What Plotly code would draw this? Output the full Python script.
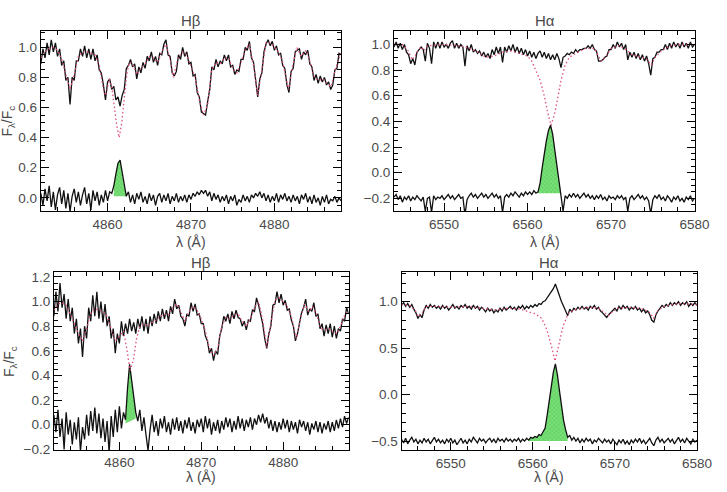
import numpy as np
import plotly.graph_objects as go

STEP = 0.25
HB_START = 4852.0
HA_START = 6544.0

# ---------------- Panel 1 : H-beta (top left) ----------------
hb1_obs = [
    0.89, 0.99, 0.93, 1.03, 0.95, 1.05, 0.97, 1.03, 0.94, 0.99,
    0.88, 0.91, 0.78, 0.80, 0.62, 0.80, 0.78, 0.91, 0.91, 0.99,
    0.94, 1.01, 0.93, 0.99, 0.92, 0.99, 0.91, 0.95, 0.85, 0.83,
    0.75, 0.65, 0.77, 0.79, 0.72, 0.74, 0.65, 0.67, 0.61, 0.68,
    0.72, 0.86, 0.88, 0.92, 0.87, 0.89, 0.79, 0.87, 0.83, 0.90,
    0.86, 0.94, 0.91, 0.97, 0.90, 0.94, 0.88, 0.96, 0.95, 1.02,
    1.05, 0.95, 0.94, 0.83, 0.81, 0.84, 0.95, 0.92, 1.00, 0.94,
    0.97, 0.89, 0.90, 0.81, 0.82, 0.70, 0.67, 0.57, 0.56, 0.55,
    0.64, 0.72, 0.87, 0.85, 0.92, 0.87, 0.91, 0.89, 0.95, 0.91,
    0.95, 0.87, 0.88, 0.82, 0.85, 0.84, 0.92, 0.92, 1.00, 0.98,
    1.04, 0.93, 0.90, 0.76, 0.67, 0.79, 0.83, 0.97, 1.02, 1.05,
    1.01, 1.04, 0.98, 1.01, 0.95, 0.96, 0.88, 0.86, 0.75, 0.70,
    0.84, 0.86, 0.97, 0.98, 0.99, 0.92, 0.97, 0.95, 0.98, 0.89,
    0.87, 0.78, 0.82, 0.76, 0.81, 0.77, 0.80, 0.75, 0.77, 0.72,
    0.75, 0.85, 0.86, 0.96, 0.95]
hb1_diff = [
    0.03, -0.05, 0.06, -0.02, 0.08, -0.06, 0.04, -0.08, 0.02, 0.07,
    -0.04, 0.05, -0.07, 0.03, -0.09, 0.01, 0.06, -0.03, 0.04, -0.05,
    0.02, 0.07, -0.04, 0.03, -0.08, 0.05, -0.02, 0.04, -0.05, 0.02,
    -0.03, 0.05, -0.02, 0.04, 0.03, 0.08, 0.16, 0.23, 0.25, 0.16,
    0.07, 0.01, 0.04, -0.03, 0.02, -0.04, 0.03, -0.01, 0.04, -0.03,
    0.01, -0.04, 0.03, -0.02, 0.02, -0.05, 0.01, 0.03, -0.03, 0.02,
    -0.02, 0.03, -0.04, 0.01, -0.02, 0.03, -0.03, 0.01, -0.02, 0.02,
    -0.03, 0.02, -0.01, 0.03, 0.01, 0.04, 0.02, 0.05, 0.03, 0.05,
    0.01, 0.04, -0.02, 0.03, -0.01, 0.02, -0.03, 0.01, -0.02, 0.02,
    -0.04, 0.01, -0.02, 0.02, -0.05, -0.01, -0.03, 0.02, -0.02, 0.01,
    -0.03, 0.02, 0.00, 0.03, 0.01, 0.04, 0.00, 0.03, -0.02, 0.02,
    -0.03, 0.01, -0.02, 0.03, -0.03, 0.02, -0.01, 0.03, -0.02, 0.01,
    -0.03, 0.02, -0.02, 0.01, -0.04, 0.02, -0.01, 0.03, -0.03, 0.01,
    -0.04, 0.02, -0.03, 0.00, -0.05, 0.01, -0.03, 0.02, -0.04, -0.01,
    -0.02, 0.01, -0.03, 0.00, -0.02]
hb1_model_wl = [4852.0, 4852.5, 4853.0, 4853.5, 4854.0, 4854.5, 4855.0, 4855.5, 4856.0, 4856.5,
                4857.0, 4857.5, 4858.0, 4858.5, 4859.0, 4859.5, 4859.8, 4860.2, 4860.5, 4860.8,
                4861.1, 4861.4, 4861.7, 4862.0, 4862.3, 4862.6, 4863.0, 4863.5, 4864.0, 4864.5,
                4865.0, 4865.5, 4866.0, 4866.5, 4867.0, 4867.5, 4867.9, 4868.4, 4869.0, 4869.5,
                4870.0, 4870.5, 4871.0, 4871.5, 4872.0, 4872.5, 4873.0, 4873.5, 4874.0, 4874.5,
                4875.0, 4875.5, 4876.0, 4876.5, 4877.0, 4877.5, 4878.0, 4878.5, 4879.0, 4879.5,
                4880.0, 4880.5, 4881.0, 4881.7, 4882.2, 4882.7, 4883.2, 4883.8, 4884.3, 4884.8,
                4885.3, 4885.8, 4886.3, 4886.8, 4887.3, 4888.0]
hb1_model = [0.93, 0.97, 0.99, 1.00, 0.98, 0.92, 0.82, 0.72, 0.82, 0.94,
             0.97, 0.97, 0.96, 0.95, 0.88, 0.72, 0.68, 0.79, 0.74, 0.62,
             0.48, 0.40, 0.50, 0.66, 0.82, 0.90, 0.89, 0.82, 0.86, 0.89,
             0.94, 0.93, 0.90, 0.97, 1.02, 0.92, 0.80, 0.92, 0.97, 0.95,
             0.88, 0.80, 0.65, 0.55, 0.62, 0.85, 0.90, 0.89, 0.93, 0.93,
             0.86, 0.83, 0.90, 0.98, 1.02, 0.88, 0.68, 0.85, 1.03, 1.03,
             1.00, 0.97, 0.90, 0.72, 0.88, 1.00, 0.94, 0.98, 0.90, 0.80,
             0.78, 0.79, 0.76, 0.74, 0.85, 0.97]
hb1_fill_wl = [4860.75, 4862.25]
hb1_fill_base = [0.01, 0.01]

# ---------------- Panel 2 : H-alpha (top right) ----------------
ha1_obs = [
    0.98, 1.02, 0.97, 1.01, 0.96, 1.00, 0.94, 0.92, 0.85, 0.89,
    0.84, 0.94, 0.96, 0.98, 0.96, 0.87, 1.01, 0.97, 0.85, 1.02,
    0.97, 1.02, 0.97, 1.02, 0.98, 1.00, 0.97, 1.01, 1.03, 0.97,
    1.01, 0.97, 1.00, 0.98, 0.83, 0.99, 0.95, 1.00, 0.94, 0.96,
    0.93, 0.95, 0.91, 0.94, 0.90, 0.93, 0.89, 0.96, 0.92, 0.98,
    0.93, 0.98, 0.86, 0.98, 0.94, 0.99, 0.95, 1.00, 0.94, 0.98,
    0.93, 0.97, 0.92, 0.96, 0.91, 0.95, 0.90, 0.94, 0.89, 0.93,
    0.95, 0.90, 0.94, 0.89, 0.93, 0.88, 0.92, 0.88, 0.93, 0.89,
    0.82, 0.90, 0.91, 0.93, 0.92, 0.94, 0.93, 0.96, 0.94, 0.96,
    0.96, 0.97, 0.97, 0.99, 0.97, 1.00, 0.96, 0.95, 0.87, 0.87,
    0.88, 0.90, 0.91, 0.96, 0.96, 1.00, 0.97, 1.02, 0.98, 1.01,
    0.96, 1.00, 0.88, 0.94, 0.90, 0.94, 0.89, 0.93, 0.88, 0.92,
    0.87, 0.91, 0.85, 0.76, 0.89, 0.90, 0.94, 0.94, 0.96, 0.96,
    1.00, 0.96, 1.01, 0.97, 1.02, 0.98, 1.01, 0.97, 1.02, 0.98,
    1.01, 0.97, 1.02, 0.98, 1.00]
ha1_diff = [
    -0.19, -0.17, -0.21, -0.18, -0.23, -0.19, -0.21, -0.18, -0.22, -0.19,
    -0.21, -0.18, -0.20, -0.22, -0.19, -0.30, -0.20, -0.19, -0.31, -0.18,
    -0.21, -0.19, -0.20, -0.18, -0.21, -0.19, -0.17, -0.20, -0.18, -0.21,
    -0.19, -0.17, -0.20, -0.19, -0.33, -0.21, -0.18, -0.16, -0.19, -0.17,
    -0.20, -0.18, -0.16, -0.19, -0.17, -0.20, -0.18, -0.16, -0.19, -0.17,
    -0.20, -0.18, -0.31, -0.19, -0.17, -0.19, -0.16, -0.18, -0.15, -0.17,
    -0.19, -0.16, -0.18, -0.15, -0.17, -0.15, -0.17, -0.14, -0.16, -0.15,
    -0.08, 0.04, 0.15, 0.25, 0.33, 0.37, 0.30, 0.18, 0.06, -0.06,
    -0.15, -0.30, -0.18, -0.20, -0.17, -0.19, -0.16, -0.19, -0.17, -0.20,
    -0.18, -0.16, -0.19, -0.17, -0.20, -0.18, -0.21, -0.18, -0.20, -0.17,
    -0.21, -0.19, -0.22, -0.18, -0.20, -0.19, -0.21, -0.18, -0.20, -0.18,
    -0.21, -0.19, -0.30, -0.20, -0.18, -0.21, -0.19, -0.17, -0.20, -0.18,
    -0.21, -0.19, -0.22, -0.32, -0.21, -0.18, -0.20, -0.17, -0.21, -0.19,
    -0.22, -0.18, -0.20, -0.23, -0.19, -0.21, -0.18, -0.22, -0.20, -0.23,
    -0.19, -0.21, -0.18, -0.22, -0.20]
ha1_model_wl = [6544.0, 6545.0, 6545.7, 6546.2, 6546.7, 6547.2, 6547.6, 6548.0, 6550.0, 6552.0,
                6553.0, 6554.0, 6555.0, 6556.0, 6557.0, 6558.0, 6559.0, 6560.0, 6560.5, 6561.0,
                6561.5, 6562.0, 6562.4, 6562.8, 6563.2, 6563.6, 6564.0, 6564.5, 6565.0, 6566.0,
                6567.0, 6568.0, 6568.5, 6568.8, 6569.3, 6570.0, 6571.0, 6571.8, 6572.5, 6573.0,
                6573.6, 6574.2, 6574.8, 6575.3, 6576.0, 6577.0, 6578.0, 6580.0]
ha1_model = [1.00, 1.00, 0.95, 0.88, 0.93, 0.98, 0.95, 0.99, 1.00, 0.99,
             0.97, 0.94, 0.90, 0.91, 0.94, 0.95, 0.93, 0.91, 0.87, 0.80,
             0.72, 0.60, 0.47, 0.37, 0.45, 0.58, 0.72, 0.84, 0.90, 0.94,
             0.97, 0.97, 0.90, 0.87, 0.90, 0.97, 0.99, 0.96, 0.92, 0.91,
             0.90, 0.89, 0.84, 0.90, 0.95, 0.99, 1.00, 1.00]
ha1_fill_wl = [6561.25, 6564.0]
ha1_fill_base = [-0.16, -0.16]

# ---------------- Panel 3 : H-beta (bottom left) ----------------
hb2_obs = [
    0.88, 1.08, 0.92, 1.15, 0.95, 1.06, 0.86, 1.02, 0.84, 0.95,
    0.74, 0.86, 0.66, 0.78, 0.55, 0.80, 0.70, 0.95, 0.84, 1.05,
    0.88, 1.08, 0.86, 1.00, 0.83, 0.98, 0.80, 0.88, 0.70, 0.78,
    0.58, 0.74, 0.66, 0.84, 0.72, 0.82, 0.74, 0.86, 0.76, 0.83,
    0.74, 0.86, 0.78, 0.88, 0.76, 0.86, 0.74, 0.88, 0.80, 0.90,
    0.82, 0.92, 0.84, 0.94, 0.86, 0.93, 0.84, 0.96, 0.90, 1.02,
    0.94, 0.97, 0.88, 0.86, 0.80, 0.90, 0.88, 0.99, 0.92, 0.98,
    0.89, 0.90, 0.82, 0.82, 0.72, 0.68, 0.58, 0.62, 0.52, 0.60,
    0.57, 0.72, 0.78, 0.88, 0.84, 0.90, 0.82, 0.92, 0.86, 0.93,
    0.87, 0.86, 0.80, 0.84, 0.77, 0.85, 0.84, 0.93, 0.92, 1.03,
    0.97, 0.90, 0.82, 0.70, 0.62, 0.74, 0.80, 0.97, 0.98, 1.08,
    0.99, 1.06, 0.97, 1.01, 0.93, 0.94, 0.85, 0.80, 0.68, 0.74,
    0.82, 0.91, 0.95, 1.02, 0.89, 0.94, 0.92, 0.99, 0.88, 0.90,
    0.78, 0.82, 0.72, 0.81, 0.74, 0.82, 0.71, 0.80, 0.70, 0.78,
    0.76, 0.86, 0.84, 0.95, 0.90]
hb2_diff = [
    0.08, -0.06, 0.12, -0.10, 0.05, -0.20, 0.10, -0.08, 0.04, -0.16,
    0.02, -0.12, 0.06, -0.22, -0.02, -0.12, 0.08, -0.09, 0.11, -0.05,
    0.14, -0.07, 0.09, -0.11, 0.05, -0.14, 0.03, -0.23, 0.07, -0.10,
    0.12, -0.06, 0.15, -0.03, 0.10, 0.04, 0.30, 0.49, 0.36, 0.24,
    0.10, 0.03, 0.12, -0.05, 0.06, -0.08, -0.21, -0.04, 0.08, -0.06,
    0.03, -0.09, 0.05, -0.03, 0.07, -0.06, 0.02, -0.08, 0.05, -0.04,
    0.06, -0.05, 0.03, -0.07, 0.04, -0.03, 0.06, -0.05, 0.02, -0.07,
    0.04, -0.02, 0.05, -0.06, 0.07, -0.03, 0.05, -0.08, 0.02, -0.05,
    0.04, -0.07, 0.03, -0.04, 0.06, -0.02, 0.05, -0.06, 0.03, -0.04,
    0.07, -0.03, 0.05, -0.05, 0.04, -0.02, 0.06, -0.04, 0.05, 0.00,
    0.08, 0.02, 0.09, 0.01, 0.06, -0.03, 0.04, -0.05, 0.03, -0.06,
    0.02, -0.04, 0.05, -0.03, 0.04, -0.06, 0.03, -0.04, 0.02, -0.07,
    0.04, -0.02, 0.03, -0.05, 0.02, -0.08, 0.01, -0.04, 0.03, -0.06,
    0.02, -0.07, 0.01, -0.04, 0.03, -0.06, 0.02, -0.05, 0.04, -0.03,
    0.05, -0.02, 0.07, 0.01, 0.06]
hb2_model_wl = [4852.0, 4852.5, 4853.0, 4853.5, 4854.0, 4854.5, 4855.0, 4855.5, 4856.0, 4856.5,
                4857.0, 4857.5, 4858.0, 4858.5, 4859.0, 4859.5, 4860.0, 4860.5, 4860.9, 4861.3,
                4861.7, 4862.1, 4862.5, 4863.0, 4863.5, 4864.0, 4864.5, 4865.0, 4865.5, 4866.0,
                4866.5, 4867.0, 4867.5, 4868.0, 4868.5, 4869.0, 4869.5, 4870.0, 4870.5, 4871.0,
                4871.5, 4872.0, 4872.5, 4873.0, 4873.5, 4874.0, 4874.5, 4875.0, 4875.5, 4876.0,
                4876.5, 4877.0, 4877.5, 4878.0, 4878.5, 4879.0, 4879.5, 4880.0, 4880.5, 4881.0,
                4881.6, 4882.1, 4882.6, 4883.1, 4883.6, 4884.1, 4884.6, 4885.1, 4885.6, 4886.1,
                4886.6, 4887.1, 4887.6, 4888.0]
hb2_model = [0.93, 0.98, 0.99, 0.97, 0.90, 0.82, 0.74, 0.68, 0.78, 0.90,
             0.94, 0.93, 0.92, 0.88, 0.78, 0.68, 0.72, 0.76, 0.62, 0.44,
             0.52, 0.70, 0.80, 0.82, 0.80, 0.83, 0.85, 0.88, 0.90, 0.89,
             0.95, 0.98, 0.92, 0.84, 0.92, 0.96, 0.93, 0.86, 0.76, 0.62,
             0.56, 0.62, 0.80, 0.87, 0.86, 0.89, 0.90, 0.84, 0.80, 0.86,
             0.95, 1.00, 0.85, 0.63, 0.82, 1.01, 1.03, 1.00, 0.96, 0.88,
             0.70, 0.86, 0.98, 0.92, 0.96, 0.89, 0.78, 0.77, 0.78, 0.75,
             0.74, 0.82, 0.90, 0.92]
hb2_fill_wl = [4860.75, 4862.0]
hb2_fill_base = [0.01, 0.05]

# ---------------- Panel 4 : H-alpha (bottom right) ----------------
ha2_obs = [
    0.96, 0.99, 0.95, 0.98, 0.94, 0.97, 0.92, 0.88, 0.82, 0.86,
    0.83, 0.91, 0.96, 0.93, 0.97, 0.94, 0.96, 0.93, 0.95, 0.92,
    0.96, 0.93, 0.95, 0.91, 0.94, 0.97, 0.93, 0.95, 0.92, 0.96,
    0.94, 0.97, 0.93, 0.95, 0.92, 0.96, 0.93, 0.95, 0.91, 0.94,
    0.92, 0.89, 0.93, 0.90, 0.92, 0.88, 0.91, 0.89, 0.93, 0.90,
    0.94, 0.91, 0.93, 0.95, 0.92, 0.94, 0.91, 0.95, 0.93, 0.96,
    0.92, 0.95, 0.93, 0.96, 0.94, 0.97, 0.95, 0.98, 0.97, 1.00,
    1.01, 1.04, 1.07, 1.10, 1.14, 1.19, 1.12, 1.05, 1.00, 0.95,
    0.90, 0.85, 0.92, 0.89, 0.93, 0.91, 0.94, 0.92, 0.95, 0.92,
    0.94, 0.91, 0.95, 0.93, 0.96, 0.92, 0.94, 0.90, 0.88, 0.85,
    0.83, 0.86, 0.88, 0.91, 0.93, 0.90, 0.95, 0.92, 0.96, 0.93,
    0.95, 0.91, 0.94, 0.92, 0.95, 0.91, 0.93, 0.89, 0.92, 0.88,
    0.90, 0.86, 0.80, 0.78, 0.86, 0.90, 0.93, 0.96, 0.94, 0.97,
    0.95, 0.99, 0.96, 0.99, 0.97, 1.00, 0.96, 0.99, 0.97, 1.00,
    0.95, 0.98, 0.96, 0.99, 0.96]
ha2_diff = [
    -0.48, -0.52, -0.47, -0.53, -0.49, -0.46, -0.51, -0.48, -0.53, -0.49,
    -0.52, -0.47, -0.51, -0.48, -0.53, -0.49, -0.46, -0.51, -0.48, -0.52,
    -0.49, -0.53, -0.48, -0.51, -0.47, -0.52, -0.49, -0.54, -0.50, -0.47,
    -0.52, -0.49, -0.53, -0.48, -0.51, -0.46, -0.49, -0.52, -0.47, -0.50,
    -0.48, -0.52, -0.49, -0.47, -0.51, -0.48, -0.52, -0.47, -0.50, -0.48,
    -0.51, -0.47, -0.50, -0.48, -0.51, -0.48, -0.50, -0.47, -0.51, -0.48,
    -0.50, -0.47, -0.49, -0.46, -0.47, -0.45, -0.46, -0.43, -0.44, -0.40,
    -0.36, -0.22, -0.07, 0.10, 0.24, 0.33, 0.21, 0.04, -0.12, -0.28,
    -0.38, -0.46, -0.44, -0.49, -0.46, -0.50, -0.47, -0.52, -0.48, -0.51,
    -0.47, -0.50, -0.48, -0.53, -0.49, -0.51, -0.47, -0.50, -0.52, -0.48,
    -0.51, -0.49, -0.53, -0.48, -0.51, -0.54, -0.49, -0.52, -0.48, -0.53,
    -0.50, -0.54, -0.49, -0.52, -0.48, -0.51, -0.47, -0.52, -0.49, -0.53,
    -0.50, -0.47, -0.52, -0.55, -0.49, -0.46, -0.51, -0.48, -0.52, -0.49,
    -0.47, -0.51, -0.48, -0.53, -0.49, -0.46, -0.51, -0.48, -0.52, -0.47,
    -0.50, -0.53, -0.48, -0.51, -0.49]
ha2_model_wl = [6544.0, 6545.0, 6545.7, 6546.0, 6546.5, 6547.0, 6548.0, 6550.0, 6552.0, 6554.0,
                6555.5, 6557.0, 6558.5, 6559.5, 6560.3, 6561.1, 6561.7, 6562.3, 6562.7, 6563.1,
                6563.7, 6564.3, 6565.0, 6566.0, 6567.0, 6568.0, 6568.7, 6569.2, 6569.8, 6570.5,
                6572.0, 6573.5, 6574.3, 6574.7, 6575.2, 6576.0, 6577.0, 6578.0, 6580.0]
ha2_model = [0.97, 0.96, 0.90, 0.84, 0.88, 0.95, 0.95, 0.94, 0.95, 0.93,
             0.91, 0.93, 0.92, 0.89, 0.87, 0.82, 0.70, 0.51, 0.36, 0.51,
             0.74, 0.87, 0.91, 0.93, 0.94, 0.93, 0.88, 0.85, 0.90, 0.93,
             0.94, 0.92, 0.88, 0.82, 0.90, 0.95, 0.97, 0.98, 0.97]
ha2_fill_wl = [6559.5, 6564.25]
ha2_fill_base = [-0.50, -0.50]

# ---------------- figure ----------------
FONT = "Liberation Sans, Arial, sans-serif"
TXT = "#4a4a4a"
W, H = 727, 492

fig = go.Figure()


def add_panel(n, start, obs, diff, mwl, model, fill_wl, fill_base):
    xa, ya = ("x", "y") if n == 1 else (f"x{n}", f"y{n}")
    wl = start + STEP * np.arange(len(obs))
    wd = start + STEP * np.arange(len(diff))
    i0 = int(round((fill_wl[0] - start) / STEP))
    i1 = int(round((fill_wl[1] - start) / STEP))
    fx = list(wd[i0:i1 + 1]) + [wd[i1], wd[i0]]
    fy = list(diff[i0:i1 + 1]) + [fill_base[1], fill_base[0]]
    fig.add_trace(go.Scatter(x=fx, y=fy, xaxis=xa, yaxis=ya, mode="none", fill="toself",
                             fillcolor="#5fd35f",
                             fillpattern=dict(shape="x", fgcolor="#2e9e2e", bgcolor="#77e077",
                                              size=3, solidity=0.25),
                             showlegend=False, hoverinfo="skip"))
    fig.add_trace(go.Scatter(x=wd, y=diff, xaxis=xa, yaxis=ya, mode="lines",
                             line=dict(color="#111111", width=1.3), showlegend=False))
    fig.add_trace(go.Scatter(x=wl, y=obs, xaxis=xa, yaxis=ya, mode="lines",
                             line=dict(color="#111111", width=1.3), showlegend=False))
    fig.add_trace(go.Scatter(x=mwl, y=model, xaxis=xa, yaxis=ya, mode="lines",
                             line=dict(color="#e0507a", width=1.3, dash="1.5px,2.5px"),
                             showlegend=False))


add_panel(1, HB_START, hb1_obs, hb1_diff, hb1_model_wl, hb1_model, hb1_fill_wl, hb1_fill_base)
add_panel(2, HA_START, ha1_obs, ha1_diff, ha1_model_wl, ha1_model, ha1_fill_wl, ha1_fill_base)
add_panel(3, HB_START, hb2_obs, hb2_diff, hb2_model_wl, hb2_model, hb2_fill_wl, hb2_fill_base)
add_panel(4, HA_START, ha2_obs, ha2_diff, ha2_model_wl, ha2_model, ha2_fill_wl, ha2_fill_base)


def px_dom(a, b, total):
    return [a / total, b / total]


def py_dom(top, bottom):
    return [1 - bottom / H, 1 - top / H]


def xax(domain, rng, anchor):
    return dict(domain=domain, range=rng, anchor=anchor, showline=True, linecolor="black",
                linewidth=1, mirror="ticks", ticks="inside", ticklen=8, tickcolor="black",
                tick0=0, dtick=10, showgrid=False, zeroline=False,
                minor=dict(dtick=2, ticks="inside", ticklen=4, tickcolor="black", showgrid=False),
                tickfont=dict(family=FONT, size=13.5, color=TXT))


def yax(domain, rng, anchor, dtick, mdtick):
    return dict(domain=domain, range=rng, anchor=anchor, showline=True, linecolor="black",
                linewidth=1, mirror="ticks", ticks="inside", ticklen=8, tickcolor="black",
                tick0=0, dtick=dtick, tickformat=".1f", showgrid=False, zeroline=False,
                minor=dict(dtick=mdtick, ticks="inside", ticklen=4, tickcolor="black", showgrid=False),
                tickfont=dict(family=FONT, size=13.5, color=TXT))


fig.update_layout(
    width=W, height=H, margin=dict(l=0, r=0, t=0, b=0),
    paper_bgcolor="white", plot_bgcolor="white", showlegend=False,
    xaxis=xax(px_dom(41.7, 348.3, W), [4852, 4888], "y"),
    yaxis=yax(py_dom(29.3, 213.3), [-0.09, 1.11], "x", 0.2, 0.05),
    xaxis2=xax(px_dom(402.3, 709.3, W), [6544, 6580.01], "y2"),
    yaxis2=yax(py_dom(29.3, 213.3), [-0.302, 1.107], "x2", 0.2, 0.05),
    xaxis3=xax(px_dom(55, 356, W), [4852, 4888], "y3"),
    yaxis3=yax(py_dom(275, 456.3), [-0.205, 1.24], "x3", 0.2, 0.05),
    xaxis4=xax(px_dom(410, 711.7, W), [6544, 6580.01], "y4"),
    yaxis4=yax(py_dom(275, 456.7), [-0.6, 1.32], "x4", 0.5, 0.1),
)

titles = [("H\u03b2", 195, 19), ("H\u03b1", 556, 19), ("H\u03b2", 205, 265), ("H\u03b1", 561, 265)]
xlabels = [(195, 244), (556, 244), (205, 484), (561, 484)]
ann = []
for t, x, y in titles:
    ann.append(dict(text=t, x=x / W, y=1 - y / H, xref="paper", yref="paper",
                    showarrow=False, xanchor="center", yanchor="middle",
                    font=dict(family=FONT, size=15, color=TXT)))
for x, y in xlabels:
    ann.append(dict(text="\u03bb (\u00c5)", x=x / W, y=1 - y / H, xref="paper", yref="paper",
                    showarrow=False, xanchor="center", yanchor="middle",
                    font=dict(family=FONT, size=14, color=TXT)))
for x, y in [(8, 121), (11, 366)]:
    ann.append(dict(text="F<sub>\u03bb</sub>/F<sub>c</sub>", x=x / W, y=1 - y / H,
                    xref="paper", yref="paper", showarrow=False, textangle=-90,
                    xanchor="center", yanchor="middle",
                    font=dict(family=FONT, size=14, color=TXT)))
fig.update_layout(annotations=ann)

fig.write_html("out.html")
